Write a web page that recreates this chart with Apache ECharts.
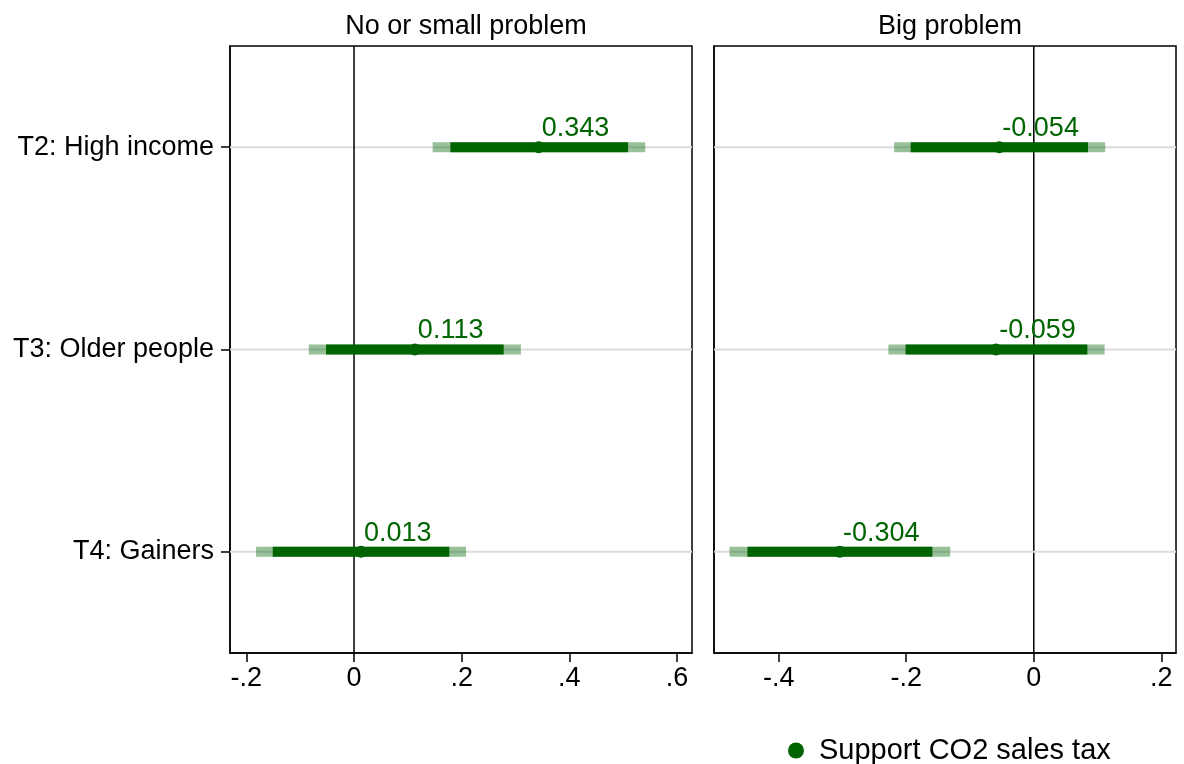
<!DOCTYPE html>
<html>
<head>
<meta charset="utf-8">
<script src="https://cdn.jsdelivr.net/npm/echarts@6/dist/echarts.min.js"></script>
<style>
    html, body { margin: 0; padding: 0; background: #fff; }
    #chart { width: 1184px; height: 764px; }
</style>
</head>
<body>
<div id="chart"></div>
<script>
/* data */
var categories = ['T2: High income', 'T3: Older people', 'T4: Gainers'];
var panelTitles = ['No or small problem', 'Big problem'];
var seriesName = 'Support CO2 sales tax';

// left panel: no or small problem
var estSmall   = [0.343, 0.113, 0.013];
var lo95Small  = [0.146, -0.084, -0.182];
var hi95Small  = [0.541, 0.310, 0.208];
var lo90Small  = [0.179, -0.052, -0.151];
var hi90Small  = [0.509, 0.278, 0.177];

// right panel: big problem
var estBig   = [-0.054, -0.059, -0.304];
var lo95Big  = [-0.219, -0.228, -0.477];
var hi95Big  = [0.112, 0.111, -0.131];
var lo90Big  = [-0.193, -0.201, -0.449];
var hi90Big  = [0.085, 0.084, -0.159];

var ticksSmall = [-0.2, 0, 0.2, 0.4, 0.6];
var ticksBig   = [-0.4, -0.2, 0, 0.2];

var FONT = "'Liberation Sans', Arial, sans-serif";
var DARK = '#006400';
var LIGHT = 'rgba(0,100,0,0.4)';

function stataNum(v) {
    if (Math.abs(v) < 1e-9) return '0';
    var s = String(Math.round(v * 10) / 10);
    return s.replace('0.', '.');
}

function ciData(lo95, hi95, lo90, hi90) {
    var out = [];
    for (var i = 0; i < categories.length; i++) {
        out.push([i, lo95[i], hi95[i], lo90[i], hi90[i]]);
    }
    return out;
}

function pointData(est) {
    return est.map(function (v, i) { return [v, i]; });
}

/* 行背景线 + 零线 + 置信区间 */
function renderCI(params, api) {
    var cs = params.coordSys;
    var row = api.value(0);
    var y = api.coord([0, row])[1];
    var x0 = api.coord([0, row])[0];
    var a = api.coord([api.value(1), row])[0];
    var b = api.coord([api.value(2), row])[0];
    var c = api.coord([api.value(3), row])[0];
    var d = api.coord([api.value(4), row])[0];
    var h = 10;
    var children = [
        {
            type: 'line',
            shape: { x1: cs.x, y1: y, x2: cs.x + cs.width, y2: y },
            style: { stroke: '#dcdcdc', lineWidth: 2 }
        }
    ];
    if (params.dataIndex === 0) {
        children.push({
            type: 'line',
            shape: { x1: x0, y1: cs.y, x2: x0, y2: cs.y + cs.height },
            style: { stroke: '#000', lineWidth: 1.5 }
        });
    }
    children.push(
        {
            type: 'rect',
            shape: { x: a, y: y - h / 2, width: b - a, height: h },
            style: { fill: LIGHT }
        },
        {
            type: 'rect',
            shape: { x: c, y: y - h / 2, width: d - c, height: h },
            style: { fill: DARK }
        }
    );
    return { type: 'group', children: children };
}

function xAxisFor(idx, min, max, ticks) {
    return {
        type: 'value',
        gridIndex: idx,
        min: min,
        max: max,
        axisLine: { show: true, onZero: false, lineStyle: { color: '#000', width: 1.5 } },
        axisTick: { show: true, length: 9, customValues: ticks, lineStyle: { color: '#000', width: 1.5 } },
        axisLabel: {
            customValues: ticks,
            formatter: stataNum,
            color: '#000', fontSize: 27, fontFamily: FONT, margin: 12
        },
        splitLine: { show: false }
    };
}

function yAxisFor(idx, showLabels) {
    return {
        type: 'category',
        gridIndex: idx,
        data: categories,
        inverse: true,
        axisLine: { show: true, onZero: false, lineStyle: { color: '#000', width: 1.5 } },
        axisTick: { show: showLabels, alignWithLabel: true, length: 9, lineStyle: { color: '#000', width: 1.5 } },
        axisLabel: { show: showLabels, color: '#000', fontSize: 27, fontFamily: FONT, margin: 16 },
        splitLine: { show: false }
    };
}

function ciSeries(idx, data) {
    return {
        type: 'custom',
        xAxisIndex: idx,
        yAxisIndex: idx,
        z: 3,
        silent: true,
        renderItem: renderCI,
        encode: { x: [1, 2, 3, 4], y: 0 },
        data: data
    };
}

function pointSeries(idx, data) {
    return {
        name: seriesName,
        type: 'scatter',
        xAxisIndex: idx,
        yAxisIndex: idx,
        z: 4,
        symbol: 'circle',
        symbolSize: 12,
        itemStyle: { color: DARK, opacity: 1 },
        label: {
            show: true,
            position: 'top',
            align: 'left',
            distance: -1,
            offset: [3, 0],
            color: DARK,
            fontSize: 27,
            fontFamily: FONT,
            formatter: function (p) { return p.value[0].toFixed(3); }
        },
        data: data
    };
}

var chart = echarts.init(document.getElementById('chart'));
var option = {
    backgroundColor: '#fff',
    animation: false,
    title: [
        {
            text: panelTitles[0], left: 461, top: 8, textAlign: 'center',
            textStyle: { fontSize: 27, fontWeight: 'normal', color: '#000', fontFamily: FONT }
        },
        {
            text: panelTitles[1], left: 945, top: 8, textAlign: 'center',
            textStyle: { fontSize: 27, fontWeight: 'normal', color: '#000', fontFamily: FONT }
        }
    ],
    legend: {
        data: [seriesName],
        left: 783,
        top: 731,
        icon: 'circle',
        itemWidth: 16,
        itemHeight: 16,
        textStyle: { fontSize: 29, color: '#000', fontFamily: FONT, padding: [0, 0, 0, 10] }
    },
    grid: [
        { left: 230, top: 46, width: 462, height: 607, show: true, borderColor: '#000', borderWidth: 1.5, backgroundColor: '#fff' },
        { left: 714, top: 46, width: 462, height: 607, show: true, borderColor: '#000', borderWidth: 1.5, backgroundColor: '#fff' }
    ],
    xAxis: [
        xAxisFor(0, -0.2304, 0.6278, ticksSmall),
        xAxisFor(1, -0.5014, 0.223, ticksBig)
    ],
    yAxis: [
        yAxisFor(0, true),
        yAxisFor(1, false)
    ],
    series: [
        ciSeries(0, ciData(lo95Small, hi95Small, lo90Small, hi90Small)),
        ciSeries(1, ciData(lo95Big, hi95Big, lo90Big, hi90Big)),
        pointSeries(0, pointData(estSmall)),
        pointSeries(1, pointData(estBig))
    ]
};
chart.setOption(option);
</script>
</body>
</html>
